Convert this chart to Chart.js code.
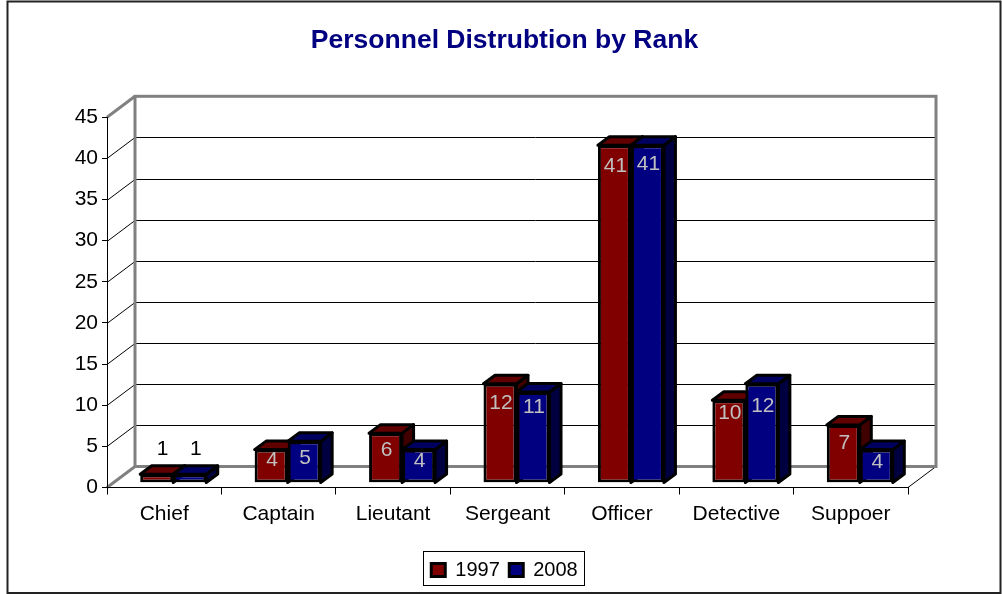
<!DOCTYPE html>
<html>
<head>
<meta charset="utf-8">
<title>Personnel Distrubtion by Rank</title>
<script src="https://cdn.jsdelivr.net/npm/chart.js@4"></script>
<style>
  html, body { margin: 0; padding: 0; background: #fff; }
  #wrap { width: 1002px; height: 594px; }
</style>
</head>
<body>
<div id="wrap"><canvas id="chart" width="1002" height="594"></canvas></div>
<script>
// data
const ranks = ['Chief', 'Captain', 'Lieutant', 'Sergeant', 'Officer', 'Detective', 'Suppoer'];
const values1997 = [1, 4, 6, 12, 41, 10, 7];
const values2008 = [1, 5, 4, 11, 41, 12, 4];

const FONT = '"Liberation Sans", Arial, sans-serif';

// 3d look: depth of the room and of the bars, and where the bars stand in the room
const ROOM_DX = 28, ROOM_DY = 21;
const BAR_DX = 11.5, BAR_DY = 8.5;
const SHIFT_X = 9, SHIFT_Y = -5;
const faces = [
  { top: '#600000', side: '#400000' },
  { top: '#000060', side: '#000040' }
];
// how far each value label sits below the top of its bar
const labelDrop = [
  [-25, 11, 17, 19, 21, 13, 18],
  [-25, 17, 12, 15, 19, 22, 13]
];

function line(ctx, x1, y1, x2, y2) {
  ctx.beginPath();
  ctx.moveTo(x1, y1);
  ctx.lineTo(x2, y2);
  ctx.stroke();
}

function poly(ctx, pts, fill) {
  ctx.beginPath();
  pts.forEach((p, i) => i ? ctx.lineTo(p[0], p[1]) : ctx.moveTo(p[0], p[1]));
  ctx.closePath();
  ctx.fillStyle = fill;
  ctx.fill();
  ctx.stroke();
}

const roomPlugin = {
  id: 'room',
  beforeDraw(chart) {
    const ctx = chart.ctx, a = chart.chartArea, y = chart.scales.y;
    ctx.save();
    // outer frame
    ctx.strokeStyle = '#222';
    ctx.lineWidth = 2;
    ctx.strokeRect(7.5, 1.5, 993, 591.5);

    // back wall grid and the diagonals on the left side
    ctx.strokeStyle = '#000';
    ctx.lineWidth = 1;
    y.ticks.forEach(t => {
      const py = Math.round(y.getPixelForValue(t.value)) + 0.5;
      if (t.value > 0 && t.value < 45) {
        line(ctx, a.left + ROOM_DX, py - ROOM_DY, a.right + ROOM_DX, py - ROOM_DY);
        line(ctx, a.left, py, a.left + ROOM_DX, py - ROOM_DY);
      }
    });
    line(ctx, a.right, a.bottom, a.right + ROOM_DX, a.bottom - ROOM_DY);

    // gray room edges
    ctx.strokeStyle = '#808080';
    ctx.lineWidth = 3;
    ctx.strokeRect(a.left + ROOM_DX, a.top - ROOM_DY, a.width, a.height);
    line(ctx, a.left, a.top, a.left + ROOM_DX, a.top - ROOM_DY);
    line(ctx, a.left, a.bottom, a.left + ROOM_DX, a.bottom - ROOM_DY);
    ctx.restore();
  },
  beforeDatasetsDraw(chart) {
    const ctx = chart.ctx;
    ctx.save();
    ctx.translate(SHIFT_X, SHIFT_Y);
    ctx.strokeStyle = '#000';
    ctx.lineWidth = 3;
    ctx.lineJoin = 'round';
    // top and side faces go first, the library paints the front faces over them
    chart.data.datasets.forEach((ds, d) => {
      chart.getDatasetMeta(d).data.forEach(bar => {
        const p = bar.getProps(['x', 'y', 'base', 'width'], true);
        const l = p.x - p.width / 2, r = p.x + p.width / 2;
        poly(ctx, [[r, p.y], [r + BAR_DX, p.y - BAR_DY], [r + BAR_DX, p.base - BAR_DY], [r, p.base]], faces[d].side);
        poly(ctx, [[l, p.y], [l + BAR_DX, p.y - BAR_DY], [r + BAR_DX, p.y - BAR_DY], [r, p.y]], faces[d].top);
      });
    });
    ctx.restore();
    // same shift for the fronts
    ctx.save();
    ctx.translate(SHIFT_X, SHIFT_Y);
  },
  afterDatasetsDraw(chart) {
    const ctx = chart.ctx;
    ctx.restore();
    // value labels
    ctx.save();
    ctx.translate(SHIFT_X, SHIFT_Y);
    ctx.font = '21px ' + FONT;
    ctx.textAlign = 'center';
    ctx.textBaseline = 'middle';
    chart.data.datasets.forEach((ds, d) => {
      chart.getDatasetMeta(d).data.forEach((bar, i) => {
        const p = bar.getProps(['x', 'y'], true);
        const v = ds.data[i];
        ctx.fillStyle = v === 1 ? '#000' : '#c0c0c0';
        ctx.fillText(v, v === 1 ? p.x + 6 : p.x + 1, p.y + labelDrop[d][i]);
      });
    });
    ctx.restore();
  },
  afterDraw(chart) {
    // box round the legend
    const ctx = chart.ctx;
    ctx.save();
    ctx.strokeStyle = '#000';
    ctx.lineWidth = 1;
    ctx.strokeRect(423.5, 551.5, 161, 34);
    ctx.restore();
  }
};

new Chart(document.getElementById('chart'), {
  type: 'bar',
  plugins: [roomPlugin],
  data: {
    labels: ranks,
    datasets: [
      { label: '1997', data: values1997, backgroundColor: '#800000', borderColor: '#000', borderWidth: 3, borderSkipped: false, yAxisID: 'yBars' },
      { label: '2008', data: values2008, backgroundColor: '#000080', borderColor: '#000', borderWidth: 3, borderSkipped: false, yAxisID: 'yBars' }
    ]
  },
  options: {
    responsive: false,
    animation: false,
    layout: { padding: { left: 8, right: 1, top: 0, bottom: 4 } },
    categoryPercentage: 0.577,
    barPercentage: 1,
    plugins: {
      title: {
        display: true,
        text: 'Personnel Distrubtion by Rank',
        color: '#000080',
        font: { family: FONT, size: 26.5, weight: 'bold' },
        padding: { top: 25, bottom: 60.5 }
      },
      legend: {
        position: 'bottom',
        labels: {
          color: '#000',
          font: { family: FONT, size: 20 },
          boxWidth: 14,
          boxHeight: 13,
          padding: 9.5
        }
      },
      tooltip: { enabled: false }
    },
    scales: {
      x: {
        grid: { display: true, drawOnChartArea: false, color: '#000', tickLength: 7, offset: true },
        border: { color: '#000', width: 1 },
        ticks: { color: '#000', font: { family: FONT, size: 21 }, padding: 7, maxRotation: 0 },
        afterFit(s) { s.height = 63; }
      },
      y: {
        min: 0,
        max: 45,
        grid: { display: true, drawOnChartArea: false, color: '#000', tickLength: 5 },
        border: { color: '#000', width: 1 },
        ticks: { stepSize: 5, color: '#000', font: { family: FONT, size: 21 }, padding: 4 },
        afterFit(s) { s.width = 99; }
      },
      // hidden scale for the bars, keeps room on the right of the plot
      yBars: {
        position: 'right',
        min: 0,
        max: 45,
        grid: { display: false },
        border: { display: false },
        ticks: { display: false },
        afterFit(s) { s.width = 93; }
      }
    }
  }
});
</script>
</body>
</html>
